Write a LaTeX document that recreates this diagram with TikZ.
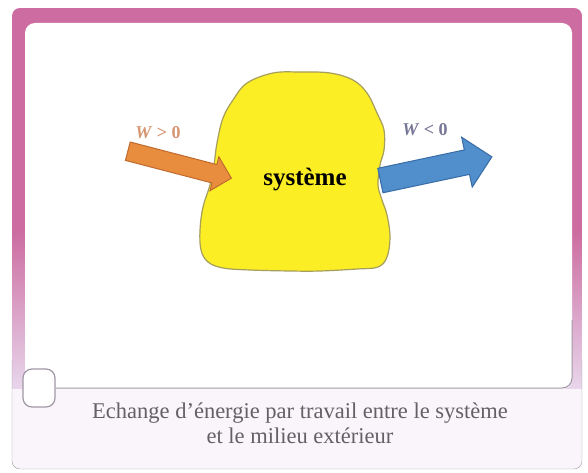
\documentclass[tikz,border=0pt]{standalone}
\usepackage{fontspec}
\setmainfont{Liberation Serif}
\usetikzlibrary{shapes.arrows, positioning}

\definecolor{bandpink}{RGB}{204,108,160}
\definecolor{bandlav}{RGB}{232,214,236}
\definecolor{capbg}{RGB}{250,245,250}
\definecolor{frameline}{RGB}{160,152,164}
\definecolor{blobyellow}{RGB}{252,238,36}
\definecolor{blobline}{RGB}{166,158,92}
\definecolor{arrorange}{RGB}{232,140,62}
\definecolor{arrorangedk}{RGB}{192,106,46}
\definecolor{arrblue}{RGB}{80,142,204}
\definecolor{arrbluedk}{RGB}{56,108,166}
\definecolor{lblorange}{RGB}{214,150,112}
\definecolor{lblblue}{RGB}{118,118,150}
\definecolor{captext}{RGB}{100,96,102}

\begin{document}
\begin{tikzpicture}[
        x=1pt, y=-1pt,
        fatarrow/.style={single arrow, single arrow head indent=0pt, minimum width=0pt,
            inner xsep=0pt, line width=1pt},
        wlbl/.style={font=\fontsize{18}{20}\selectfont\bfseries, inner sep=1pt},
        captxt/.style={font=\fontsize{22.5}{25}\selectfont, text=captext, align=center}
    ]
        \useasboundingbox (0,0) rectangle (588,473);

        % frame
        \begin{scope}
            \clip[rounded corners=8] (12,8) rectangle (582,469);
            \fill[bandpink] (12,8) rectangle (582,231);
            \shade[top color=bandpink, bottom color=bandlav] (12,230) rectangle (582,389);
            \fill[capbg] (12,389) rectangle (582,469);
        \end{scope}
        \draw[frameline, rounded corners=8] (12,360) -- (12,469) -- (582,469) -- (582,360);
        \fill[white, rounded corners=10] (25,23) rectangle (572,389);
        \node[draw=frameline, fill=white, line width=1.2pt, rounded corners=9,
              minimum width=32pt, minimum height=38pt] (tab) at (39,388) {};
        \draw[frameline, line width=1pt, rounded corners=10] (tab.east) -- (572,388) -- (572,320);

        % the system
        \filldraw[fill=blobyellow, draw=blobline, line width=1.2pt]
            plot[smooth cycle, tension=0.6] coordinates {
                (247,83) (273,73) (300,72) (330,73) (353,80) (367,93) (377,113)
                (384,130) (384,150) (380,165) (378,185) (382,200) (387,215)
                (390,237) (387,257) (378,267) (357,269) (320,271) (290,271)
                (250,270) (223,268) (208,262) (201,250) (200,230) (203,207)
                (210,185) (214,165) (217,143) (223,118) (233,100)};
        \node[font=\fontsize{25}{28}\selectfont\bfseries] (sys) at (305,180) {système};

        % work arrows
        \node[fatarrow, fill=arrorange, draw=arrorangedk, inner ysep=9pt,
              single arrow head extend=8pt, minimum height=107pt, rotate=-14.6] (arrin) at (175,163.5) {};
        \node[fatarrow, fill=arrblue, draw=arrbluedk, inner ysep=12pt,
              single arrow head extend=13pt, minimum height=114pt, rotate=12] (arrout) at (430,170) {};
        \node[wlbl, text=lblorange] (wpos) at (158,133) {\textit{W} > 0};
        \node[wlbl, text=lblblue]   (wneg) at (425,130) {\textit{W} < 0};

        % caption
        \node[captxt] (capt) at (300,423.5) {Echange d’énergie par travail entre le système\\et le milieu extérieur};
    \end{tikzpicture}
\end{document}
